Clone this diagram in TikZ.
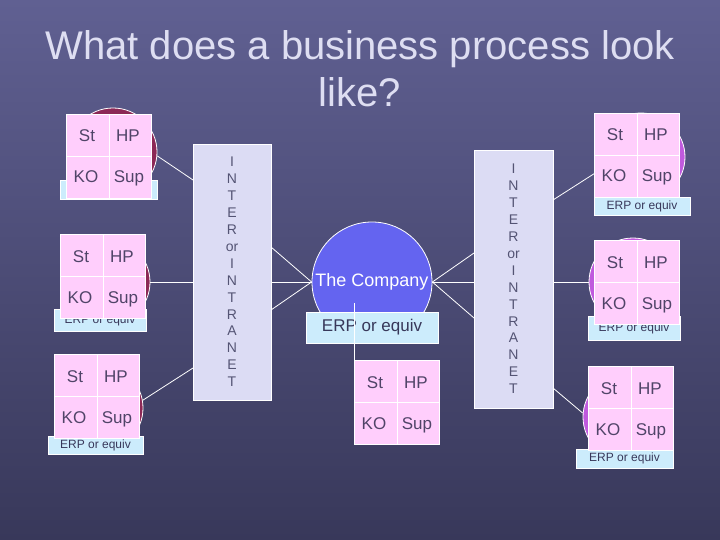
\documentclass[tikz,border=0pt]{standalone}
\usepackage{fontspec}
\setmainfont{Liberation Sans}
\definecolor{bgtop}{RGB}{96,96,146}
\definecolor{bgbot}{RGB}{56,56,90}
\definecolor{lcirc}{RGB}{140,40,86}
\definecolor{rcirc}{RGB}{192,90,222}
\definecolor{ccirc}{RGB}{100,100,240}
\definecolor{pinkc}{RGB}{255,206,252}
\definecolor{erpc}{RGB}{204,236,252}
\definecolor{interc}{RGB}{220,220,244}
\definecolor{celltxt}{RGB}{80,68,104}
\definecolor{erptxt}{RGB}{56,56,90}
\definecolor{intertxt}{RGB}{84,84,116}
\definecolor{titlec}{RGB}{222,222,242}
\tikzset{
  circ/.style={circle, draw=white, line width=0.8pt, minimum size=88pt, inner sep=0pt},
  conn/.style={draw=white, line width=0.8pt},
  tbl/.style={rectangle, fill=pinkc, draw=white, line width=0.8pt, minimum width=85pt, minimum height=84pt, inner sep=0pt, anchor=north west},
  cell/.style={text=celltxt, font=\fontsize{17}{17}\selectfont, inner sep=0pt, anchor=base},
  erp/.style={rectangle, fill=erpc, draw=white, line width=0.5pt, inner sep=0pt, text=erptxt, font=\fontsize{12}{12}\selectfont},
  inter/.style={rectangle, fill=interc, draw=white, line width=0.8pt, inner sep=0pt, text=intertxt, align=center, font=\fontsize{14}{16.9}\selectfont},
  titletxt/.style={text=titlec, font=\fontsize{40}{40}\selectfont, inner sep=0pt, anchor=base},
}
\newcommand\bptable[3]{%
  \node[tbl] (#1) at (#2,#3) {};
  \draw[white, line width=0.8pt] (#1.north) -- (#1.south) (#1.west) -- (#1.east);
  \node[cell] (#1-st) at ([shift={(21,28)}]#1.north west) {St};
  \node[cell] (#1-hp) at ([shift={(62,28)}]#1.north west) {HP};
  \node[cell] (#1-ko) at ([shift={(20,69)}]#1.north west) {KO};
  \node[cell] (#1-sup) at ([shift={(63,69)}]#1.north west) {Sup};
}
\newcommand\bpintertext{I\\N\\T\\E\\R\\or\\I\\N\\T\\R\\A\\N\\E\\T}
\begin{document}
\begin{tikzpicture}[x=1pt, y=-1pt]
  \shade[top color=bgtop, bottom color=bgbot] (0,0) rectangle (720,540);
  \useasboundingbox (0,0) rectangle (720,540);

  % title
  \node[titletxt] (t1) at (360,60) {What does a business process look};
  \node[titletxt] (t2) at (360,107) {like?};

  % circles
  \node[circ, fill=lcirc] (L1) at (113,152) {};
  \node[circ, fill=lcirc] (L2) at (106,282) {};
  \node[circ, fill=lcirc] (L3) at (99,408) {};
  \node[circ, fill=rcirc] (R1) at (641,157) {};
  \node[circ, fill=rcirc] (R2) at (633,282) {};
  \node[circ, fill=rcirc] (R3) at (627,417) {};
  \node[circle, draw=white, line width=0.8pt, fill=ccirc, minimum size=120pt, inner sep=0pt,
        text=white, font=\fontsize{18}{18}\selectfont] (C) at (372,282) {The Company};

  % inter/intranet boxes
  \node[inter, minimum width=78pt, minimum height=256pt] (LB) at (232,272) {\bpintertext};
  \node[inter, minimum width=79pt, minimum height=258pt] (RB) at (513.5,279) {\bpintertext};

  % connector end points on the boxes
  \coordinate (la1) at (193,180);
  \coordinate (la2) at (193,282);
  \coordinate (la3) at (193,368);
  \coordinate (lb1) at (271,247);
  \coordinate (lb2) at (271,282);
  \coordinate (lb3) at (271,310);
  \coordinate (ra1) at (474,253);
  \coordinate (ra2) at (474,282);
  \coordinate (ra3) at (474,318);
  \coordinate (rb1) at (553,200);
  \coordinate (rb2) at (553,282);
  \coordinate (rb3) at (553,388);

  \draw[conn] (L1.-5) -- (la1);
  \draw[conn] (L2.east) -- (la2);
  \draw[conn] (L3.10) -- (la3);
  \draw[conn] (C.west) -- (lb1);
  \draw[conn] (C.west) -- (lb2);
  \draw[conn] (C.west) -- (lb3);
  \draw[conn] (C.east) -- (ra1);
  \draw[conn] (C.east) -- (ra2);
  \draw[conn] (C.east) -- (ra3);
  \draw[conn] (rb1) -- (R1.198);
  \draw[conn] (rb2) -- (R2.west);
  \draw[conn] (rb3) -- (R3.175);

  % ERP boxes
  \node[erp, minimum width=97pt, minimum height=19pt] (E1) at (108.5,189.5) {};
  \node[erp, minimum width=92pt, minimum height=22pt] (E2) at (100,320) {ERP or equiv};
  \node[erp, minimum width=95pt, minimum height=18pt] (E3) at (95.5,445) {ERP or equiv};
  \node[erp, minimum width=96pt, minimum height=18pt] (E4) at (642,206.5) {ERP or equiv};
  \node[erp, minimum width=92pt, minimum height=24pt] (E5) at (634,328) {ERP or equiv};
  \node[erp, minimum width=97pt, minimum height=19pt] (E6) at (624.5,458.5) {ERP or equiv};
  \node[erp, minimum width=132pt, minimum height=31pt, font=\fontsize{17}{17}\selectfont] (EC) at (372,327.5) {ERP or equiv};

  % tables
  \bptable{T1}{66}{114}
  \bptable{T2}{60}{234}
  \bptable{T3}{54}{354}
  \bptable{T4}{594}{113}
  \bptable{T5}{594}{240}
  \bptable{T6}{588}{366}
  \bptable{TC}{354}{360}

  % company to its table
  \coordinate (cv) at (354,303);
  \draw[conn] (cv) -- (TC.north west);
\end{tikzpicture}
\end{document}
